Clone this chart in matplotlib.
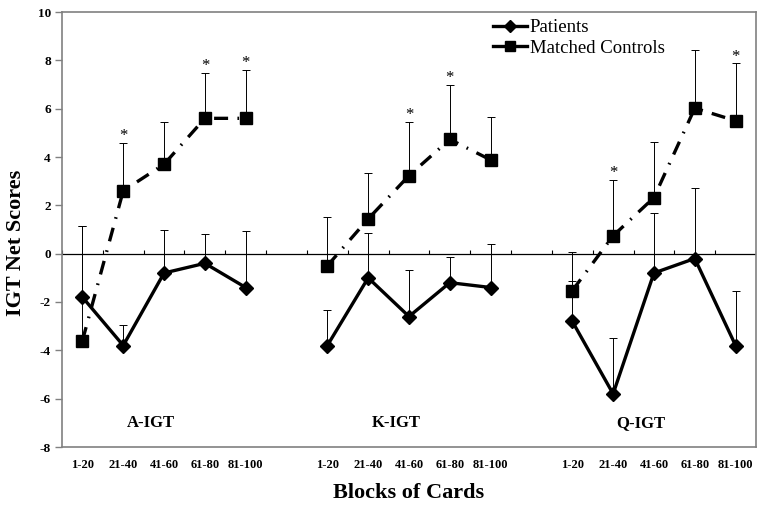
import numpy as np
import matplotlib
matplotlib.use("Agg")
import matplotlib.pyplot as plt

plt.rcParams['font.family'] = ['Liberation Serif', 'DejaVu Serif']

# ---- data ----
blocks = ["1-20", "21-40", "41-60", "61-80", "81-100"]
tests = ["A-IGT", "K-IGT", "Q-IGT"]

patients_mean = {
    "A-IGT": [-1.8, -3.8, -0.8, -0.4, -1.4],
    "K-IGT": [-3.8, -1.0, -2.6, -1.2, -1.4],
    "Q-IGT": [-2.8, -5.8, -0.8, -0.2, -3.8],
}
patients_upper = {  # top of the (upper-only) error bars
    "A-IGT": [1.15, -2.95, 1.0, 0.8, 0.95],
    "K-IGT": [-2.34, 0.84, -0.69, -0.12, 0.39],
    "Q-IGT": [-1.13, -3.5, 1.67, 2.73, -1.53],
}
controls_mean = {
    "A-IGT": [-3.6, 2.6, 3.7, 5.6, 5.6],
    "K-IGT": [-0.5, 1.44, 3.23, 4.73, 3.88],
    "Q-IGT": [-1.53, 0.74, 2.32, 6.02, 5.5],
}
controls_upper = {
    "A-IGT": [1.15, 4.6, 5.46, 7.48, 7.6],
    "K-IGT": [1.5, 3.35, 5.46, 7.0, 5.64],
    "Q-IGT": [0.05, 3.05, 4.63, 8.43, 7.88],
}
significant = {  # stars above controls' error bars
    "A-IGT": [False, True, False, True, True],
    "K-IGT": [False, False, True, True, False],
    "Q-IGT": [False, True, False, False, True],
}

y_ticks = [-8, -6, -4, -2, 0, 2, 4, 6, 8, 10]
gap = 1  # empty category slot between tests

# ---- figure ----
fig = plt.figure(figsize=(7.64, 5.05), dpi=100)
ax = fig.add_axes([62/764, 1 - 447/505, (756-62)/764, (447-12)/505])

n_blocks = len(blocks)
all_pos, all_labels = [], []
grey = "#808080"

for g, t in enumerate(tests):
    pos = np.arange(n_blocks) + g * (n_blocks + gap)
    all_pos.extend(pos)
    all_labels.extend(blocks)

    pm = np.array(patients_mean[t]); pu = np.array(patients_upper[t])
    cm = np.array(controls_mean[t]); cu = np.array(controls_upper[t])

    # error bars (upper only)
    ax.errorbar(pos, pm, yerr=[np.zeros_like(pm), pu - pm], fmt='none',
                ecolor='black', elinewidth=0.7, capsize=3, capthick=0.7, zorder=2)
    ax.errorbar(pos, cm, yerr=[np.zeros_like(cm), cu - cm], fmt='none',
                ecolor='black', elinewidth=0.7, capsize=3, capthick=0.7, zorder=2)

    ax.plot(pos, pm, color='black', lw=2.4, marker='D', markersize=7.5,
            label="Patients" if g == 0 else None, zorder=4)
    ax.plot(pos, cm, color='black', lw=2.4, linestyle=(0, (4.2, 2.8, 0.5, 2.8)),
            marker='s', markersize=9,
            label="Matched Controls" if g == 0 else None, zorder=4)

    for p, u, s in zip(pos, cu, significant[t]):
        if s:
            ax.annotate("*", (p, u), xytext=(0, -1), textcoords='offset points',
                        ha='center', va='bottom', fontsize=12)

    ax.text(pos[0] + 1.68, -7.0, t, ha='center', va='center',
            fontsize=12, fontweight='bold')

n_total = len(all_pos) + 2 * gap
ax.set_xlim(-0.5, n_total - 0.5)
ax.set_ylim(-8, 10)

# zero line with category-boundary ticks
ax.axhline(0, color='black', lw=0.9, zorder=1)
bounds = np.arange(-0.5, n_total, 1.0)
ax.vlines(bounds, 0, 0.17, color='black', lw=0.8, zorder=1)

ax.set_xticks(all_pos)
ax.set_xticklabels(all_labels, fontsize=9, fontweight='bold')
ax.tick_params(axis='x', length=0, pad=9)

ax.set_yticks(y_ticks)
ax.set_yticklabels([str(v) for v in y_ticks], fontsize=9.5, fontweight='bold')
ax.tick_params(axis='y', length=5, color=grey, width=1, pad=3)

for sp in ax.spines.values():
    sp.set_color(grey)
    sp.set_linewidth(1.2)

ax.set_ylabel("IGT Net Scores", fontsize=16, fontweight='bold')
ax.yaxis.set_label_coords(-0.052, 0.47)
ax.set_xlabel("Blocks of Cards", fontsize=16, fontweight='bold', labelpad=8)

leg = ax.legend(loc='upper left', bbox_to_anchor=(493/764, 1 - 19/505),
                bbox_transform=fig.transFigure, frameon=False, fontsize=13.5,
                handlelength=1.8, handletextpad=0.15, labelspacing=0.2,
                borderpad=0, borderaxespad=0, markerscale=0.8)
for line in leg.get_lines():
    line.set_linestyle('-')

fig.savefig("out.png", dpi=100)
